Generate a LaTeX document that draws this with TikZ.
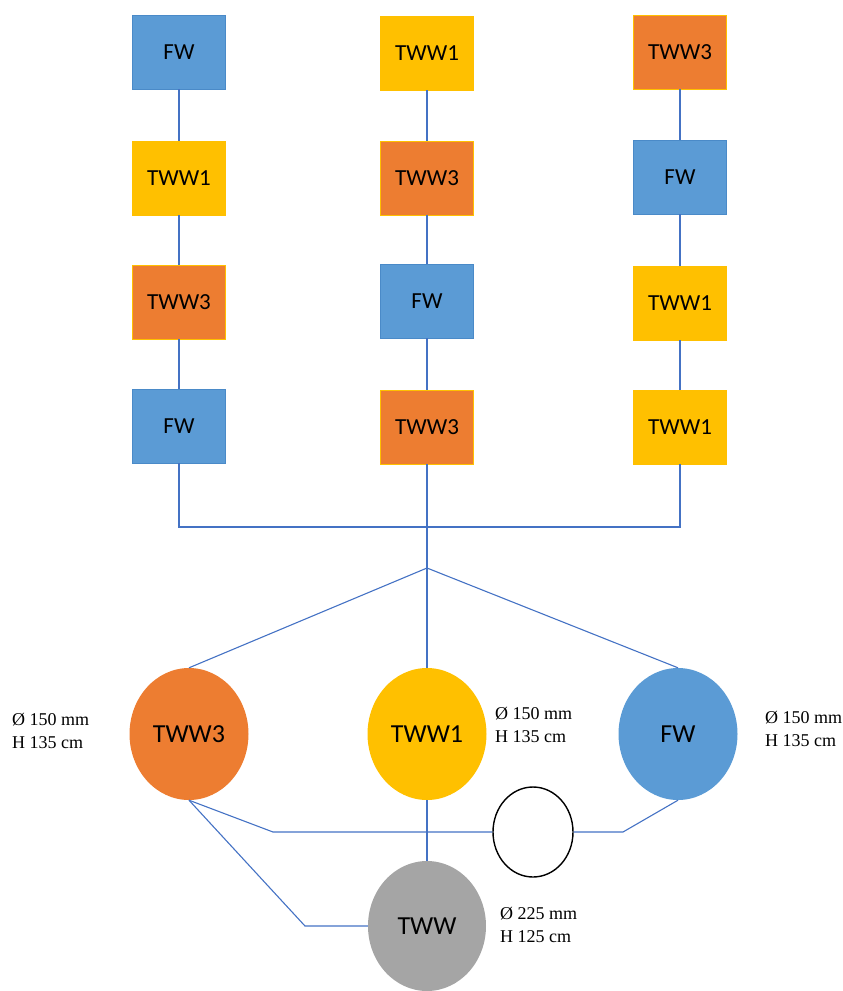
\documentclass[tikz,border=0pt]{standalone}
\usepackage{fontspec}
\setmainfont{Liberation Serif}
\newfontfamily\boxfont{Carlito}
\usetikzlibrary{shapes.geometric}
\definecolor{fwblue}{HTML}{5B9BD5}
\definecolor{fwedge}{HTML}{4A8AC8}
\definecolor{twwone}{HTML}{FFC000}
\definecolor{twwthree}{HTML}{ED7D31}
\definecolor{twwgray}{HTML}{A5A5A5}
\definecolor{pipe}{HTML}{4472C4}
\begin{document}
\begin{tikzpicture}[x=1pt,y=-1pt,
    box/.style={rectangle,minimum width=93pt,minimum height=74pt,inner sep=0pt,font=\boxfont\fontsize{23}{23}\selectfont},
    fwbox/.style={box,fill=fwblue,draw=fwedge,line width=0.8pt},
    onebox/.style={box,fill=twwone,draw=twwone,line width=0.8pt},
    threebox/.style={box,fill=twwthree,draw=twwone,line width=0.8pt},
    tank/.style={ellipse,minimum width=119pt,minimum height=132pt,inner sep=0pt,font=\boxfont\fontsize{26}{26}\selectfont},
    spec/.style={anchor=west,align=left,inner sep=0pt,font=\fontsize{18}{23}\selectfont},
    pipeline/.style={draw=pipe,line width=1.1pt}]
\useasboundingbox (0,0) rectangle (843,991);

\node[fwbox]    (a1) at (179,52)  {FW};
\node[onebox]   (a2) at (179,178) {TWW1};
\node[threebox] (a3) at (179,302) {TWW3};
\node[fwbox]    (a4) at (179,426) {FW};

\node[onebox]   (b1) at (427,53)  {TWW1};
\node[threebox] (b2) at (427,178) {TWW3};
\node[fwbox]    (b3) at (427,301) {FW};
\node[threebox] (b4) at (427,427) {TWW3};

\node[threebox] (c1) at (680,52)  {TWW3};
\node[fwbox]    (c2) at (680,177) {FW};
\node[onebox]   (c3) at (680,303) {TWW1};
\node[onebox]   (c4) at (680,427) {TWW1};

\coordinate (bus) at (427,527);
\coordinate (apex) at (427,568);

\node[tank,fill=twwthree] (k3) at (189,734) {TWW3};
\node[tank,fill=twwone]   (k1) at (427,734) {TWW1};
\node[tank,fill=fwblue]   (kf) at (678,734) {FW};
\node[ellipse,draw,line width=1.4pt,fill=white,minimum width=80pt,minimum height=90pt] (valve) at (533,832) {};
\node[tank,fill=twwgray,minimum width=118pt,minimum height=130pt] (kt) at (427,926) {TWW};

\node[spec] (s3) at (12,731)  {Ø 150 mm\\H 135 cm};
\node[spec] (s1) at (495,725) {Ø 150 mm\\H 135 cm};
\node[spec] (sf) at (765,729) {Ø 150 mm\\H 135 cm};
\node[spec] (st) at (500,925) {Ø 225 mm\\H 125 cm};

\coordinate (bendA) at (273,832);
\coordinate (bendB) at (623,832);
\coordinate (bendC) at (305,926);

\draw[pipeline] (a1) -- (a2);
\draw[pipeline] (a2) -- (a3);
\draw[pipeline] (a3) -- (a4);
\draw[pipeline] (b1) -- (b2);
\draw[pipeline] (b2) -- (b3);
\draw[pipeline] (b3) -- (b4);
\draw[pipeline] (c1) -- (c2);
\draw[pipeline] (c2) -- (c3);
\draw[pipeline] (c3) -- (c4);
\draw[pipeline] (a4.south) |- (bus) -| (c4.south);
\draw[pipeline] (b4.south) -- (apex);
\draw[pipeline] (apex) -- (k3.north);
\draw[pipeline] (apex) -- (k1.north);
\draw[pipeline] (apex) -- (kf.north);
\draw[pipeline] (k3.south) -- (bendA) -- (valve.west);
\draw[pipeline] (valve.east) -- (bendB) -- (kf.south);
\draw[pipeline] (k1.south) -- (kt.north);
\draw[pipeline] (k3.south) -- (bendC) -- (kt.west);
\end{tikzpicture}
\end{document}
